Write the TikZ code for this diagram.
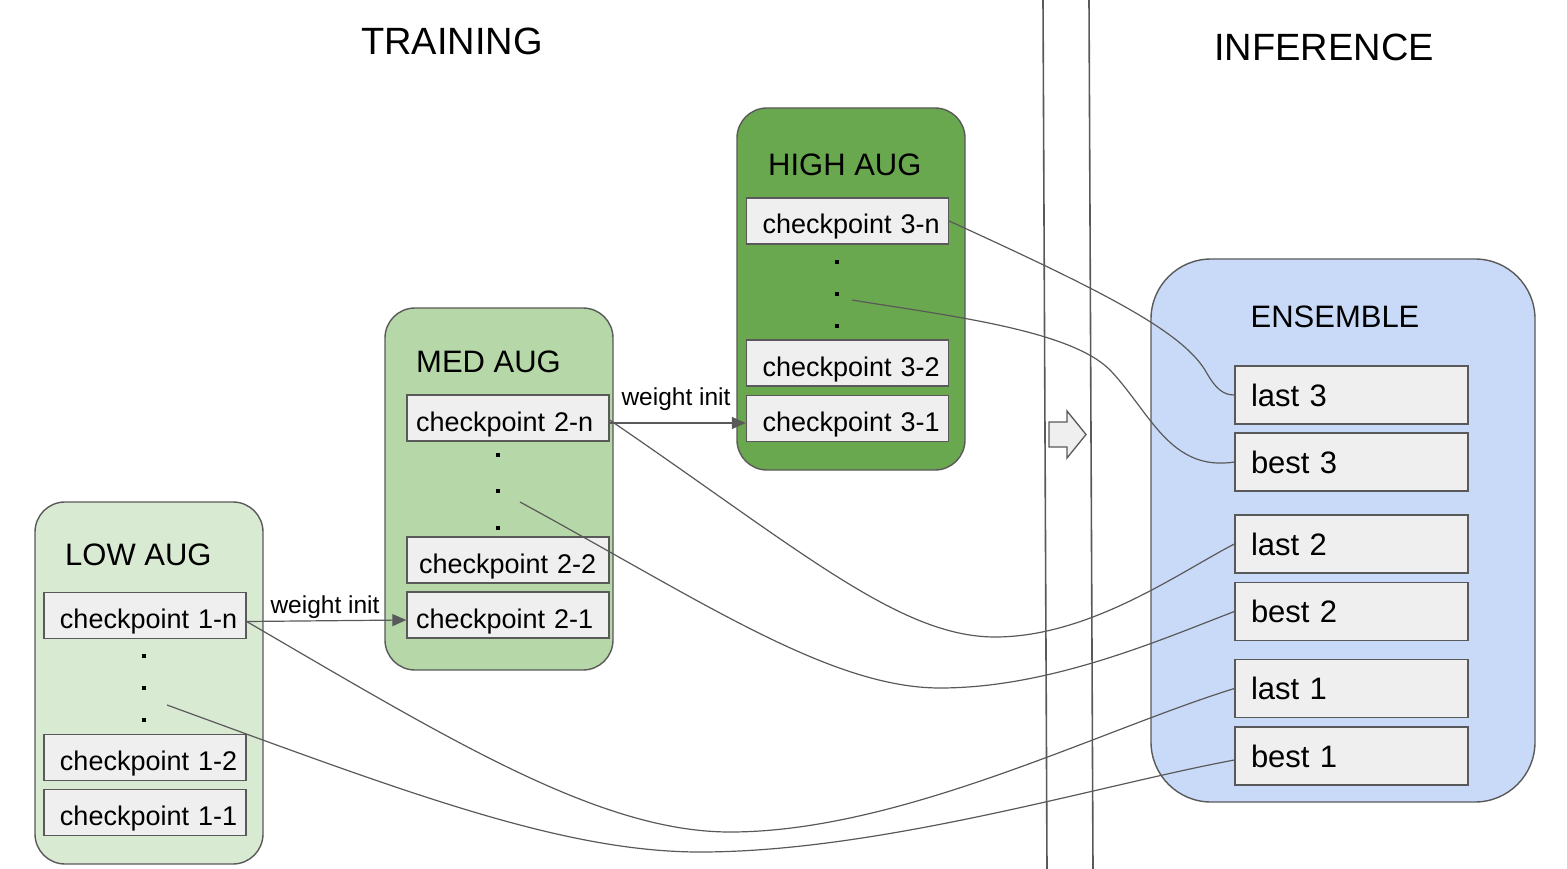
\documentclass[tikz,border=0pt]{standalone}
\usepackage{fontspec}
\setmainfont{Liberation Sans}
\usetikzlibrary{arrows.meta,calc}
\definecolor{lowc}{HTML}{D9EAD3}
\definecolor{medc}{HTML}{B6D7A8}
\definecolor{highc}{HTML}{6AA84F}
\definecolor{ensc}{HTML}{C9DAF8}
\definecolor{boxc}{HTML}{EFEFEF}
\definecolor{linec}{HTML}{595959}
\def\myckinset{16pt}
\begin{document}
\begin{tikzpicture}[x=1pt,y=-1pt,
  group/.style={draw=linec, line width=1.4pt, rounded corners=30pt, inner sep=0pt},
  inset/.code={\def\myckinset{#1}},
  ckpt/.style={draw=linec, fill=boxc, line width=1.3pt, minimum width=202pt, minimum height=46pt, inner ysep=0pt, inner xsep=0pt, text width=202pt, align=left, text height=26pt, text depth=0pt, execute at begin node={\hspace*{\myckinset}}, font=\fontsize{27}{32}\selectfont},
  ens/.style={draw=linec, fill=boxc, line width=1.3pt, minimum width=233pt, minimum height=58pt, inner xsep=16pt, inner ysep=0pt, text width=201pt, align=left, font=\fontsize{31}{36}\selectfont},
  grouptitle/.style={inner sep=0pt, anchor=west, font=\fontsize{31}{36}\selectfont},
  bigtitle/.style={inner sep=0pt, font=\fontsize{38}{44}\selectfont},
  wlabel/.style={inner sep=0pt, font=\fontsize{24.5}{29}\selectfont},
  conn/.style={draw=linec, line width=1.2pt},
  winit/.style={conn, -{Triangle[length=14pt,width=12pt]}},
  dotmark/.style={fill=black, inner sep=0pt, minimum size=4pt},
  sep/.style={draw=linec, line width=1.6pt}
]
\useasboundingbox (0,0) rectangle (1567,869);

% separator lines
\coordinate (s1t) at (1043,0); \coordinate (s1b) at (1047,869);
\coordinate (s2t) at (1089,0); \coordinate (s2b) at (1093,869);
\draw[sep] (s1t) -- (s1b);
\draw[sep] (s2t) -- (s2b);

% titles
\node[bigtitle] (training) at (452,41) {TRAINING};
\node[bigtitle] (inference) at (1324,47) {INFERENCE};

% groups
\node[group, fill=lowc, minimum width=228pt, minimum height=362pt] (low) at (149,683) {};
\node[group, fill=medc, minimum width=228pt, minimum height=362pt] (med) at (499,489) {};
\node[group, fill=highc, minimum width=228pt, minimum height=362pt] (high) at (851,289) {};
\node[group, fill=ensc, rounded corners=60pt, minimum width=384pt, minimum height=543pt] (ensemble) at (1343,530.5) {};

\node[grouptitle] (lowt) at (65,555) {LOW AUG};
\node[grouptitle] (medt) at (416,362) {MED AUG};
\node[grouptitle] (hight) at (768,165) {HIGH AUG};
\node[grouptitle, anchor=center] (enst) at (1335,317) {ENSEMBLE};

% checkpoints
\node[ckpt] (c1n) at (145,615.5) {checkpoint 1-n};
\node[ckpt] (c12) at (145,757.5) {checkpoint 1-2};
\node[ckpt] (c11) at (145,812.5) {checkpoint 1-1};
\node[ckpt, inset=9pt] (c2n) at (508,418) {checkpoint 2-n};
\node[ckpt, inset=12pt] (c22) at (508,560) {checkpoint 2-2};
\node[ckpt, inset=9pt] (c21) at (508,615) {checkpoint 2-1};
\node[ckpt] (c3n) at (847.5,221) {checkpoint 3-n};
\node[ckpt] (c32) at (847.5,363) {checkpoint 3-2};
\node[ckpt] (c31) at (847.5,418.5) {checkpoint 3-1};

% dots
\node[dotmark] (d1a) at (144,656) {};
\node[dotmark] (d1b) at (144,688) {};
\node[dotmark] (d1c) at (144,720) {};
\node[dotmark] (d2a) at (498,455) {};
\node[dotmark] (d2b) at (498,491) {};
\node[dotmark] (d2c) at (498,528) {};
\node[dotmark] (d3a) at (837,262) {};
\node[dotmark] (d3b) at (837,294) {};
\node[dotmark] (d3c) at (837,326) {};

% ensemble members
\node[ens] (last3) at (1351.5,395) {last 3};
\node[ens] (best3) at (1351.5,462) {best 3};
\node[ens] (last2) at (1351.5,544) {last 2};
\node[ens] (best2) at (1351.5,611.5) {best 2};
\node[ens] (last1) at (1351.5,688.5) {last 1};
\node[ens] (best1) at (1351.5,756) {best 1};

% big arrow
\node[inner sep=0pt] (bigarrow) at (1067,434.5) {};
\draw[draw=linec, fill=boxc, line width=1.3pt]
  (1049,422) -- (1067,422) -- (1067,411) -- (1086,434.5) -- (1067,458) -- (1067,447) -- (1049,447) -- cycle;

% weight init arrows
\draw[winit] ($(c1n.east)+(0,6)$) -- ($(c21.west)+(0,5)$);
\node[wlabel] (w1) at (325,607) {weight init};
\draw[winit] ($(c2n.east)+(0,5)$) -- ($(c31.west)+(0,4.5)$);
\node[wlabel] (w2) at (676,399) {weight init};

% ensemble connectors
\coordinate (h3) at (852,300);
\coordinate (h2) at (520,502);
\coordinate (h1) at (167,705);
\draw[conn] ($(c3n.east)+(0,0)$) .. controls (1100,290) and (1180,330) .. (1205,370) .. controls (1216,390) and (1224,395) .. (last3.west);
\draw[conn] (h3) .. controls (950,316) and (1070,330) .. (1110,370) .. controls (1150,412) and (1170,472) .. (best3.west);
\draw[conn] ($(c2n.east)+(0,2)$) .. controls (800,550) and (900,637) .. (995,637) .. controls (1090,637) and (1180,572) .. (last2.west);
\draw[conn] (h2) .. controls (700,600) and (830,688) .. (940,688) .. controls (1050,688) and (1160,640) .. (best2.west);
\draw[conn] ($(c1n.east)+(0,6)$) .. controls (450,740) and (600,832) .. (730,832) .. controls (900,832) and (1100,730) .. (last1.west);
\draw[conn] (h1) .. controls (400,790) and (560,852) .. (700,852) .. controls (880,852) and (1100,785) .. ($(best1.west)+(0,4)$);
\end{tikzpicture}
\end{document}
